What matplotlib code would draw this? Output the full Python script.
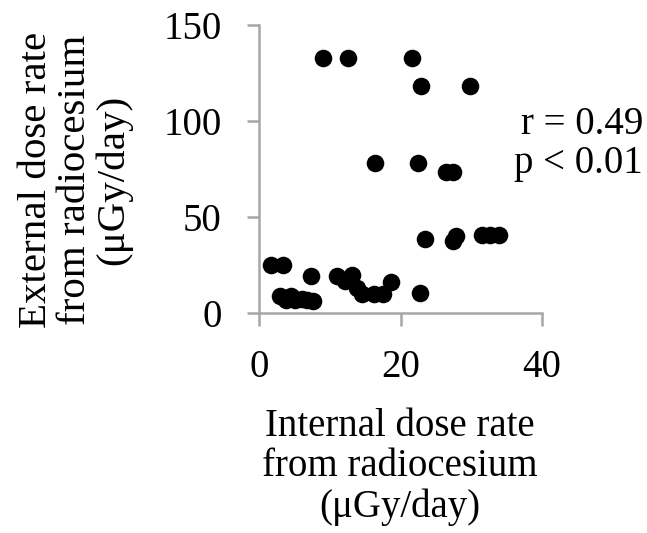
import matplotlib
matplotlib.use("Agg")
import matplotlib.pyplot as plt

plt.rcParams['font.family'] = ['Liberation Serif', 'DejaVu Serif']

# internal dose rate (x) and external dose rate (y), both in uGy/day
internal_dose = [
    9.0, 12.5, 21.6, 22.9, 29.8,
    16.4, 22.5, 26.5, 27.5,
    23.5, 27.5, 27.8, 31.5, 32.7, 33.9,
    22.8,
    1.6, 3.4, 7.3,
    3.0, 3.8, 4.5, 5.0, 6.0, 6.8, 7.6,
    11.0, 12.2, 13.1, 13.8, 14.5, 16.2, 17.5, 18.6,
]
external_dose = [
    133, 133, 133, 118, 118,
    78, 78, 73.5, 73.5,
    38.5, 37.5, 40, 40.5, 40.5, 40.5,
    10.5,
    25, 25, 19.5,
    9, 7, 9, 7, 7.5, 7, 6.5,
    19.5, 16.5, 20, 13, 10, 10, 10, 16,
]

x_ticks = [0, 20, 40]
y_ticks = [0, 50, 100, 150]

axis_gray = '#a6a6a6'

fig = plt.figure(figsize=(6.47, 5.33), dpi=100)
ax = fig.add_axes([259.3 / 647, 1 - 313 / 533, (541.7 - 259.3) / 647, (313 - 25) / 533])

ax.scatter(internal_dose, external_dose, s=160, color='black', linewidths=0, zorder=3, clip_on=False)

ax.set_xlim(0, 40)
ax.set_ylim(0, 150)
ax.set_xticks(x_ticks)
ax.set_yticks(y_ticks)

for side in ['top', 'right']:
    ax.spines[side].set_visible(False)
for side in ['left', 'bottom']:
    ax.spines[side].set_color(axis_gray)
    ax.spines[side].set_linewidth(1.8)

ax.tick_params(axis='both', colors=axis_gray, width=1.8, length=9, labelsize=28, labelcolor='black')
ax.tick_params(axis='x', pad=17)
ax.tick_params(axis='y', pad=18)

fig.text(75.5 / 647, 1 - 180 / 533, 'External dose rate\nfrom radiocesium\n(μGy/day)',
         rotation=90, ha='center', va='center', fontsize=29.5, linespacing=1.05, multialignment='center')
fig.text(400 / 647, 1 - 467 / 533, 'Internal dose rate\nfrom radiocesium\n(μGy/day)',
         ha='center', va='center', fontsize=28, linespacing=1.12, multialignment='center')

fig.text(643 / 647, 1 - 125 / 533, 'r = 0.49', ha='right', va='center', fontsize=28)
fig.text(643 / 647, 1 - 163 / 533, 'p < 0.01', ha='right', va='center', fontsize=28)

fig.savefig('out.png', dpi=100)
